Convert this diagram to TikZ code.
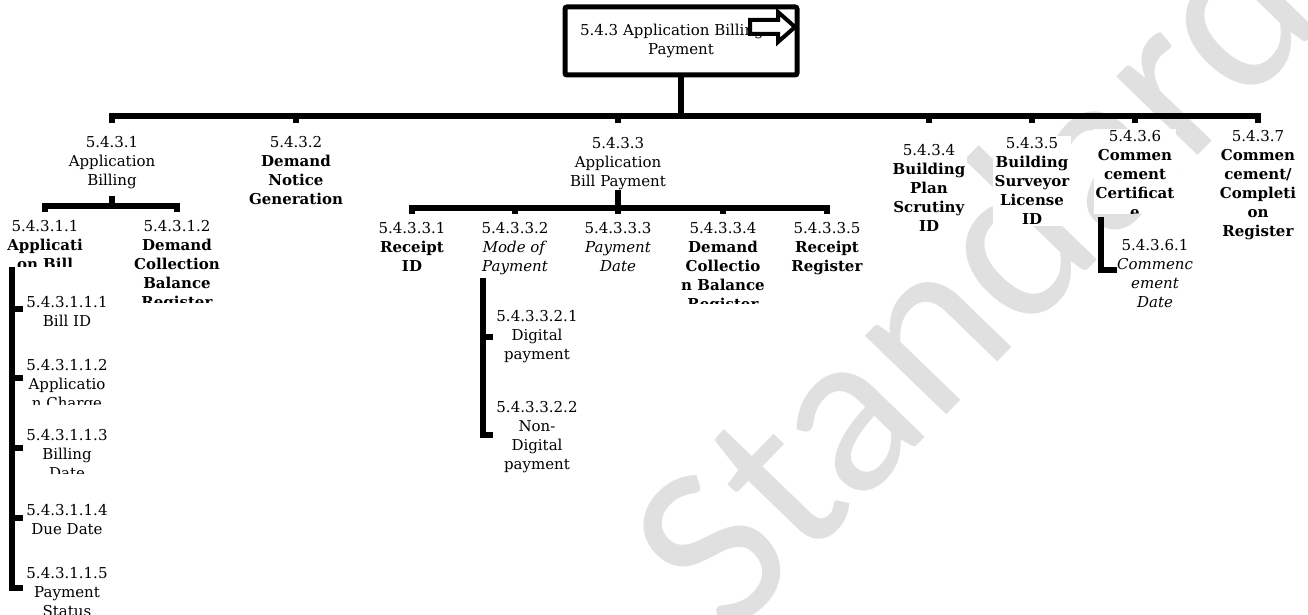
\documentclass[tikz,border=0pt]{standalone}
\usepackage{fontspec}
\setmainfont{DejaVu Serif}
\newfontfamily\wmfont{Carlito}
\newcommand{\diagfont}{\fontsize{15}{19}\selectfont}
\begin{document}
\begin{tikzpicture}[x=1pt,y=-1pt,
  lbl/.style={align=center, inner sep=1.5pt, anchor=north, fill=white, font=\diagfont},
  conn/.style={line width=5.5pt, line join=miter},
  wm/.style={anchor=base west, rotate=46, inner sep=0pt, text=black!12, font=\wmfont\fontsize{237}{237}\selectfont},
]
\useasboundingbox (0,0) rectangle (1308,615);
% watermark
\node[wm] (wmark) at (728,642) {Standard};

% root
\node[draw, fill=white, line width=5pt, rounded corners=2pt, minimum width=232pt, minimum height=68pt,
      align=center, inner sep=0pt, font=\diagfont] (root) at (681,41) {5.4.3 Application Billing \&\\Payment};
\draw[line width=4pt, fill=white, line join=miter] (750,20) -- (778,20) -- (778,12) -- (795,27) -- (778,42) -- (778,34) -- (750,34) -- cycle;

% level 1
\node[lbl] (n5431) at (112,135) {5.4.3.1\\Application\\Billing};
\node[lbl] (n5432) at (296,135) {5.4.3.2\\\textbf{Demand}\\\textbf{Notice}\\\textbf{Generation}};
\node[lbl] (n5433) at (618,136) {5.4.3.3\\Application\\Bill Payment};
\node[lbl] (n5434) at (929,143) {5.4.3.4\\\textbf{Building}\\\textbf{Plan}\\\textbf{Scrutiny}\\\textbf{ID}};
\node[lbl] (n5435) at (1032,136) {5.4.3.5\\\textbf{Building}\\\textbf{Surveyor}\\\textbf{License}\\\textbf{ID}};
\begin{scope}
\clip (1080,120) rectangle (1195,213);
\node[lbl] (n5436) at (1135,129) {5.4.3.6\\\textbf{Commen}\\\textbf{cement}\\\textbf{Certificat}\\\textbf{e}};
\end{scope}
\node[lbl] (n5437) at (1258,129) {5.4.3.7\\\textbf{Commen}\\\textbf{cement/}\\\textbf{Completi}\\\textbf{on}\\\textbf{Register}};

% level 2 under 5.4.3.1
\begin{scope}
\clip (0,200) rectangle (110,266);
\node[lbl] (n54311) at (45,219) {5.4.3.1.1\\\textbf{Applicati}\\\textbf{on Bill}};
\end{scope}
\begin{scope}
\clip (110,200) rectangle (260,302);
\node[lbl] (n54312) at (177,219) {5.4.3.1.2\\\textbf{Demand}\\\textbf{Collection}\\\textbf{Balance}\\\textbf{Register}};
\end{scope}

% level 3 under 5.4.3.1.1
\node[lbl] (c1) at (67,295) {5.4.3.1.1.1\\Bill ID};
\begin{scope}
\clip (20,340) rectangle (130,404);
\node[lbl] (c2) at (67,358) {5.4.3.1.1.2\\Applicatio\\n Charge};
\end{scope}
\begin{scope}
\clip (20,410) rectangle (130,473);
\node[lbl] (c3) at (67,428) {5.4.3.1.1.3\\Billing\\Date};
\end{scope}
\node[lbl] (c4) at (67,503) {5.4.3.1.1.4\\Due Date};
\node[lbl] (c5) at (67,566) {5.4.3.1.1.5\\Payment\\Status};

% level 2 under 5.4.3.3
\node[lbl] (n54331) at (412,221) {5.4.3.3.1\\\textbf{Receipt}\\\textbf{ID}};
\node[lbl] (n54332) at (515,221) {5.4.3.3.2\\\textit{Mode of}\\\textit{Payment}};
\node[lbl] (n54333) at (618,221) {5.4.3.3.3\\\textit{Payment}\\\textit{Date}};
\begin{scope}
\clip (665,210) rectangle (775,303);
\node[lbl] (n54334) at (723,221) {5.4.3.3.4\\\textbf{Demand}\\\textbf{Collectio}\\\textbf{n Balance}\\\textbf{Register}};
\end{scope}
\node[lbl] (n54335) at (827,221) {5.4.3.3.5\\\textbf{Receipt}\\\textbf{Register}};

% level 3 under 5.4.3.3.2
\node[lbl] (d1) at (537,309) {5.4.3.3.2.1\\Digital\\payment};
\node[lbl] (d2) at (537,400) {5.4.3.3.2.2\\Non-\\Digital\\payment};

% level 2 under 5.4.3.6
\node[lbl] (e1) at (1155,238) {5.4.3.6.1\\\textit{Commenc}\\\textit{ement}\\\textit{Date}};

% connector levels
\coordinate (y0) at (0,116);
\coordinate (y0t) at (0,123);
\coordinate (y1a) at (0,196);
\coordinate (y1) at (0,206);
\coordinate (y1t) at (0,212);
\coordinate (y2a) at (0,190);
\coordinate (y2) at (0,208);
\coordinate (y2t) at (0,214);

\draw[conn] (root.south) -- (root.south |- y0);
\draw[conn] (n5431 |- y0t) -- (n5431 |- y0) -- (n5437 |- y0) -- (n5437 |- y0t);
\foreach \n in {n5432,n5433,n5434,n5435,n5436}
  \draw[conn] (\n |- y0) -- (\n |- y0t);

\draw[conn] (n5431 |- y1a) -- (n5431 |- y1);
\draw[conn] (n54311 |- y1t) -- (n54311 |- y1) -- (n54312 |- y1) -- (n54312 |- y1t);

\draw[conn] (n5433 |- y2a) -- (n5433 |- y2);
\draw[conn] (n54331 |- y2t) -- (n54331 |- y2) -- (n54335 |- y2) -- (n54335 |- y2t);
\foreach \n in {n54332,n54333,n54334}
  \draw[conn] (\n |- y2) -- (\n |- y2t);

% child list under 5.4.3.1.1
\coordinate (v1top) at (12,267);
\coordinate (t11) at (23,309);
\coordinate (t12) at (23,378);
\coordinate (t13) at (23,448);
\coordinate (t14) at (23,518);
\coordinate (t15) at (23,588);
\draw[conn] (v1top) |- (t15);
\foreach \t in {t11,t12,t13,t14}
  \draw[conn] (v1top |- \t) -- (\t);

% child list under 5.4.3.3.2
\coordinate (v2top) at (483,278);
\coordinate (t21) at (493,337);
\coordinate (t22) at (493,435);
\draw[conn] (v2top) |- (t22);
\draw[conn] (v2top |- t21) -- (t21);

% child under 5.4.3.6
\coordinate (v3top) at (1101,217);
\coordinate (t31) at (1117,270);
\draw[conn] (v3top) |- (t31);
\end{tikzpicture}
\end{document}
